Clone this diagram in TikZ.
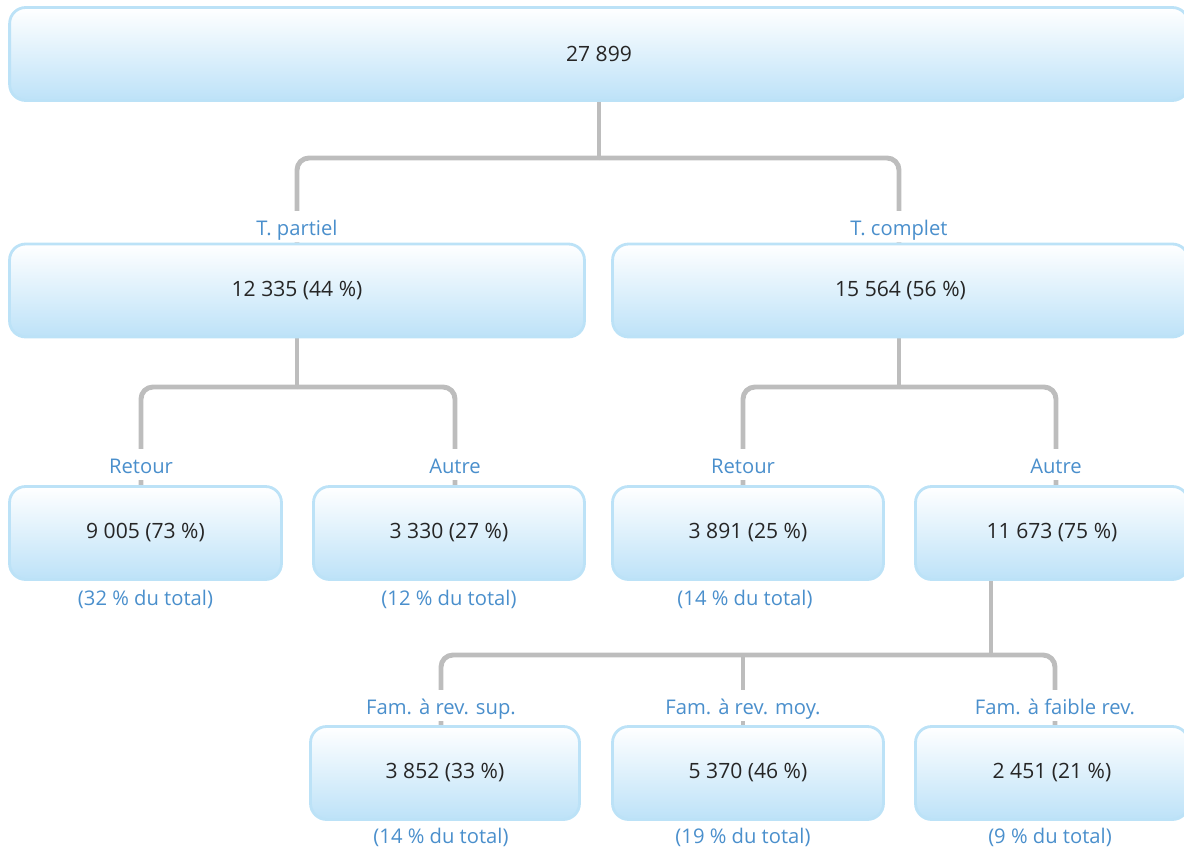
\documentclass[tikz,border=0pt]{standalone}
\usepackage{fontspec}
\setmainfont{Open Sans}
\usetikzlibrary{backgrounds}
\definecolor{boxedge}{HTML}{BCE2F7}
\definecolor{boxfill}{HTML}{BDE2F8}
\definecolor{labelblue}{HTML}{4A8FCC}
\definecolor{linkgray}{HTML}{BDBDBD}
\tikzset{
  databox/.style={rectangle, rounded corners=0.32cm, draw=boxedge, line width=1.6pt,
    top color=white, bottom color=boxfill, minimum height=1.86cm, inner sep=0pt,
    font=\fontsize{12}{14}\selectfont, text=black!85},
  catlabel/.style={fill=white, inner sep=0pt, text height=0.48cm, text depth=0.14cm,
    anchor=base, font=\fontsize{11.5}{14}\selectfont, text=labelblue},
  sharelabel/.style={inner sep=0pt, font=\fontsize{11.5}{14}\selectfont, text=labelblue},
  link/.style={draw=linkgray, line width=2.8pt, rounded corners=0.24cm},
}
\begin{document}
\begin{tikzpicture}[x=0.02cm, y=-0.02cm]
  \useasboundingbox (0,0) rectangle (1184,852);
  \clip (0,0) rectangle (1184,852);

  % ---- Total -------------------------------------------------
  \node[databox, minimum width=23.58cm] (total) at (599,54) {27 899};

  % ---- Temps partiel / complet -------------------------------
  \node[databox, minimum width=11.5cm] (part) at (297,290.5) {12 335 (44 \%)};
  \node[databox, minimum width=11.52cm] (comp) at (900.5,290.5) {15 564 (56 \%)};
  \node[catlabel] (lpart) at (297,235) {T. partiel};
  \node[catlabel] (lcomp) at (899,235) {T. complet};

  % ---- Retour / Autre ----------------------------------------
  \node[databox, minimum width=5.44cm] (pret) at (145.5,533) {9 005 (73 \%)};
  \node[databox, minimum width=5.42cm] (paut) at (449,533) {3 330 (27 \%)};
  \node[databox, minimum width=5.42cm] (cret) at (748,533) {3 891 (25 \%)};
  \node[databox, minimum width=5.46cm] (caut) at (1052,533) {11 673 (75 \%)};
  \node[catlabel] (lpret) at (141,473) {Retour};
  \node[catlabel] (lpaut) at (455,473) {Autre};
  \node[catlabel] (lcret) at (743,473) {Retour};
  \node[catlabel] (lcaut) at (1056,473) {Autre};
  \node[sharelabel] (spret) at (145.5,599) {(32 \% du total)};
  \node[sharelabel] (spaut) at (449,599) {(12 \% du total)};
  \node[sharelabel] (scret) at (745,599) {(14 \% du total)};

  % ---- Familles ----------------------------------------------
  \node[databox, minimum width=5.38cm] (fsup) at (445,773) {3 852 (33 \%)};
  \node[databox, minimum width=5.42cm] (fmoy) at (748,773) {5 370 (46 \%)};
  \node[databox, minimum width=5.46cm] (ffai) at (1052,773) {2 451 (21 \%)};
  \node[catlabel] (lfsup) at (441,714) {Fam. à rev. sup.};
  \node[catlabel] (lfmoy) at (743,714) {Fam. à rev. moy.};
  \node[catlabel] (lffai) at (1055,714) {Fam. à faible rev.};
  \node[sharelabel] (sfsup) at (441,837) {(14 \% du total)};
  \node[sharelabel] (sfmoy) at (743,837) {(19 \% du total)};
  \node[sharelabel] (sffai) at (1050,837) {(9 \% du total)};

  % ---- Connectors (behind labels) ----------------------------
  \begin{pgfonlayer}{background}
    \coordinate (j1) at (599,158);
    \coordinate (j2) at (297,387);
    \coordinate (j3) at (899,387);
    \coordinate (j4) at (991,655);
    \draw[link] (total.south) -- (j1);
    \draw[link] (j1) -| (lpart |- part.north);
    \draw[link] (j1) -| (lcomp |- comp.north);
    \draw[link] (part.south) -- (j2);
    \draw[link] (j2) -| (lpret |- pret.north);
    \draw[link] (j2) -| (lpaut |- paut.north);
    \draw[link] (comp.south -| j3) -- (j3);
    \draw[link] (j3) -| (lcret |- cret.north);
    \draw[link] (j3) -| (lcaut |- caut.north);
    \draw[link] (caut.south -| j4) -- (j4);
    \draw[link] (j4) -| (lfsup |- fsup.north);
    \draw[link] (j4) -| (lffai |- ffai.north);
    \draw[link] (lfmoy |- j4) -- (lfmoy |- fmoy.north);
  \end{pgfonlayer}

\end{tikzpicture}
\end{document}
